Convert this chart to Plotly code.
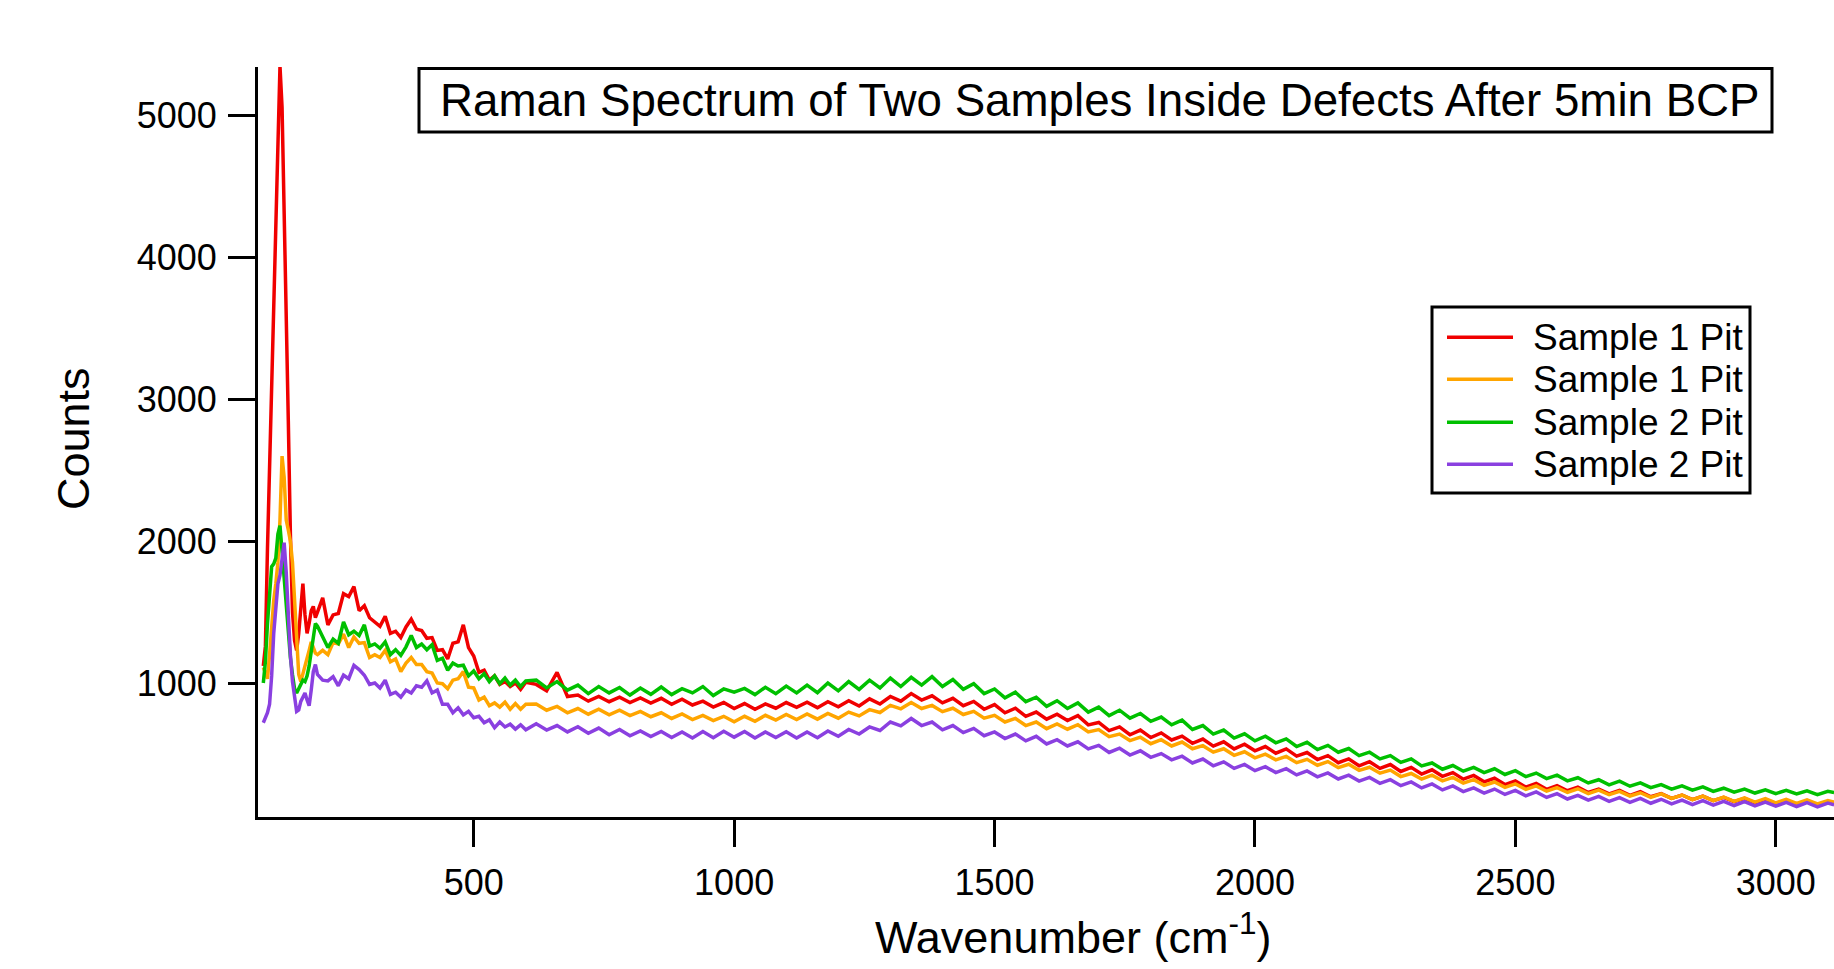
import plotly.graph_objects as go

# ---------------- data ----------------
wavenumber = (list(range(96, 201, 4)) + list(range(210, 601, 10))
              + list(range(620, 3101, 20)) + [3112])

series_names = ["Sample 1 Pit", "Sample 1 Pit", "Sample 2 Pit", "Sample 2 Pit"]
series_colors = ["#F00000", "#FFA500", "#00C000", "#8A40E0"]

sample1_pit_a = [
    1120, 1260, 1950, 2550, 3050, 3600, 4150, 4750, 5350, 5060, 4400, 3600, 2850, 2050,
    1500, 1300, 1230, 1350, 1560, 1700, 1480, 1350, 1420, 1510, 1540, 1460, 1500,
    1600, 1410, 1480, 1490, 1630, 1610, 1680, 1510, 1545, 1460, 1430, 1400, 1470, 1350,
    1365, 1320, 1395, 1450, 1380, 1370, 1315, 1320, 1230, 1235, 1170, 1280, 1290, 1410,
    1250, 1190, 1075, 1090, 1020, 1050, 990, 1010, 975, 1000, 955, 1005,
    990, 945, 1075, 905, 915, 872, 905, 868, 900, 862,
    895, 858, 892, 850, 886, 845, 872, 830, 862, 820,
    855, 815, 852, 822, 862, 828, 865, 826, 868, 832,
    875, 838, 888, 852, 905, 872, 925, 880, 910, 860,
    892, 840, 870, 815, 848, 790, 822, 765, 795, 745,
    780, 735, 770, 705, 722, 664, 690, 635, 668, 615,
    648, 598, 625, 575, 605, 555, 585, 535, 568, 522,
    552, 505, 535, 484, 510, 460, 488, 438, 465, 416,
    445, 398, 425, 376, 405, 358, 388, 342, 368, 322,
    348, 303, 328, 284, 310, 266, 292, 250, 276, 240,
    265, 228, 252, 218, 243, 208, 233, 198, 220, 186,
    210, 178, 202, 170, 194, 163, 186, 155, 178, 150,
    172, 144, 167, 140, 162, 152,
]

sample1_pit_b = [
    1110, 1060, 1030, 1200, 1420, 1580, 1700, 1850, 2150, 2600, 2450, 2150, 2080, 2000,
    1850, 1550, 1250, 1060, 1010, 1060, 1130, 1170, 1230, 1290, 1240, 1210, 1200,
    1230, 1200, 1285, 1275, 1345, 1250, 1325, 1280, 1285, 1180, 1200, 1180, 1230, 1150,
    1170, 1080, 1140, 1180, 1130, 1130, 1080, 1070, 1000, 995, 960, 1020, 1030, 1080,
    970, 965, 880, 900, 840, 860, 830, 865, 815, 855, 815, 850,
    852, 808, 835, 790, 820, 780, 815, 775, 808, 770,
    800, 762, 790, 750, 782, 742, 772, 735, 765, 726,
    765, 730, 772, 738, 778, 742, 782, 745, 785, 752,
    795, 768, 812, 792, 842, 818, 862, 820, 842, 798,
    822, 778, 800, 752, 772, 725, 750, 700, 725, 678,
    712, 674, 706, 655, 672, 622, 640, 594, 618, 572,
    600, 556, 584, 536, 558, 512, 536, 490, 515, 472,
    498, 458, 482, 438, 462, 420, 446, 403, 427, 384,
    406, 364, 386, 340, 362, 322, 350, 310, 334, 294,
    318, 278, 302, 264, 288, 250, 274, 237, 262, 228,
    254, 220, 245, 212, 236, 203, 226, 194, 218, 186,
    210, 178, 202, 171, 196, 165, 190, 160, 184, 155,
    180, 151, 176, 148, 171, 160,
]

sample2_pit_a = [
    1000, 1150, 1420, 1650, 1820, 1840, 1880, 2050, 2110, 1930, 1720, 1530, 1350, 1180,
    1060, 960, 930, 960, 1000, 1020, 1010, 1050, 1120, 1230, 1310, 1420, 1400,
    1320, 1250, 1310, 1280, 1430, 1340, 1365, 1335, 1410, 1260, 1275, 1245, 1290, 1200,
    1235, 1195, 1255, 1335, 1250, 1275, 1235, 1270, 1160, 1175, 1090, 1140, 1120, 1125,
    1050, 1085, 1030, 1065, 1010, 1050, 995, 1035, 985, 1020, 975, 1015,
    1020, 965, 1010, 950, 985, 925, 975, 930, 968, 915,
    965, 920, 972, 918, 960, 930, 975, 912, 958, 935,
    962, 918, 970, 925, 978, 930, 985, 932, 1000, 945,
    1010, 955, 1020, 965, 1035, 975, 1040, 985, 1045, 975,
    1025, 955, 995, 925, 958, 895, 935, 868, 900, 835,
    875, 820, 860, 795, 830, 770, 808, 752, 785, 730,
    760, 705, 738, 672, 700, 640, 668, 612, 642, 592,
    625, 578, 606, 552, 582, 530, 560, 512, 538, 488,
    512, 465, 488, 440, 465, 415, 436, 392, 418, 378,
    405, 368, 395, 355, 382, 340, 365, 326, 350, 310,
    332, 295, 318, 282, 308, 272, 296, 262, 284, 252,
    275, 245, 268, 236, 258, 230, 252, 224, 247, 220,
    243, 218, 240, 213, 236, 228,
]

sample2_pit_b = [
    720, 760, 790, 850, 1050, 1350, 1550, 1700, 1760, 1900, 1990, 1780, 1480, 1200,
    1010, 900, 800, 810, 870, 900, 930, 880, 840, 950, 1080, 1130, 1060,
    1020, 1015, 1045, 980, 1055, 1030, 1125, 1095, 1055, 990, 1000, 965, 1020, 920,
    935, 900, 950, 930, 980, 970, 1015, 930, 950, 850, 850, 790, 825, 775,
    800, 755, 765, 720, 740, 685, 725, 690, 710, 675, 705, 670,
    712, 668, 700, 655, 692, 645, 682, 635, 672, 628,
    662, 622, 658, 616, 655, 612, 658, 614, 660, 618,
    658, 612, 655, 615, 656, 612, 655, 614, 662, 624,
    672, 640, 690, 665, 725, 698, 750, 700, 725, 670,
    700, 650, 680, 628, 655, 608, 640, 592, 624, 570,
    600, 556, 585, 535, 560, 510, 540, 492, 522, 476,
    502, 458, 484, 436, 464, 416, 444, 398, 426, 382,
    410, 368, 396, 352, 380, 338, 366, 323, 350, 308,
    334, 292, 318, 276, 302, 260, 288, 246, 274, 234,
    260, 224, 252, 214, 242, 204, 232, 193, 220, 182,
    208, 174, 200, 165, 192, 158, 186, 152, 180, 148,
    174, 142, 170, 139, 166, 136, 163, 133, 160, 131,
    158, 129, 156, 127, 153, 141,
]

series_values = [sample1_pit_a, sample1_pit_b, sample2_pit_a, sample2_pit_b]

x_tick_values = [500, 1000, 1500, 2000, 2500, 3000]
y_tick_values = [1000, 2000, 3000, 4000, 5000]
x_range = [85.8, 3111.8]
y_range = [55, 5344]

title_text = "Raman Spectrum of Two Samples Inside Defects After 5min BCP"
x_title = "Wavenumber (cm<sup>-1</sup>)"
y_title = "Counts"

# ---------------- layout helpers ----------------
W, H = 1834, 969
ML, MR, MT, MB = 258, 0, 67, 152
PW, PH = W - ML - MR, H - MT - MB
FONT = "Liberation Sans, Arial, Helvetica, sans-serif"


def px_x(p):
    return (p - ML) / PW


def px_y(p):
    return 1 - (p - MT) / PH


fig = go.Figure()
for name, color, vals in zip(series_names, series_colors, series_values):
    fig.add_trace(go.Scatter(x=wavenumber, y=vals, mode="lines", name=name,
                             line=dict(color=color, width=3.5), showlegend=False))

axis_common = dict(showline=True, linecolor="black", linewidth=3, ticks="outside",
                   ticklen=27, tickwidth=3, tickcolor="black", showgrid=False,
                   zeroline=False, mirror=False,
                   tickfont=dict(family=FONT, size=36, color="black"))

fig.update_xaxes(range=x_range, tickvals=x_tick_values, ticklabelstandoff=5, **axis_common)
fig.update_yaxes(range=y_range, tickvals=y_tick_values, ticklabelstandoff=4, **axis_common)

shapes = []
annotations = []

# title box
shapes.append(dict(type="rect", xref="paper", yref="paper",
                   x0=px_x(419), x1=px_x(1772), y0=px_y(132), y1=px_y(68.5),
                   line=dict(color="black", width=3)))
annotations.append(dict(text=title_text, xref="paper", yref="paper",
                        x=px_x(1100), y=px_y(100), xanchor="center", yanchor="middle",
                        showarrow=False, font=dict(family=FONT, size=45.7, color="black")))

# axis titles
annotations.append(dict(text=y_title, xref="paper", yref="paper", x=px_x(73), y=px_y(439),
                        xanchor="center", yanchor="middle", textangle=-90, showarrow=False,
                        font=dict(family=FONT, size=45, color="black")))
annotations.append(dict(text=x_title, xref="paper", yref="paper", x=px_x(1073), y=px_y(934),
                        xanchor="center", yanchor="middle", showarrow=False,
                        font=dict(family=FONT, size=45, color="black")))

# legend box
shapes.append(dict(type="rect", xref="paper", yref="paper",
                   x0=px_x(1432), x1=px_x(1750), y0=px_y(493), y1=px_y(307),
                   line=dict(color="black", width=3)))
legend_rows = [337.3, 379.3, 422.3, 464.3]
for row, name, color in zip(legend_rows, series_names, series_colors):
    shapes.append(dict(type="line", xref="paper", yref="paper",
                       x0=px_x(1447), x1=px_x(1513), y0=px_y(row), y1=px_y(row),
                       line=dict(color=color, width=3.5)))
    annotations.append(dict(text=name, xref="paper", yref="paper", x=px_x(1531), y=px_y(row),
                            xanchor="left", yanchor="middle", showarrow=False,
                            font=dict(family=FONT, size=37, color="black")))

fig.update_layout(width=W, height=H, autosize=False,
                  margin=dict(l=ML, r=MR, t=MT, b=MB, pad=0),
                  paper_bgcolor="white", plot_bgcolor="white",
                  font=dict(family=FONT, color="black"),
                  shapes=shapes, annotations=annotations, showlegend=False)

fig.write_html("out.html", config={"displayModeBar": False},
               post_script="document.body.style.margin='0px';")
